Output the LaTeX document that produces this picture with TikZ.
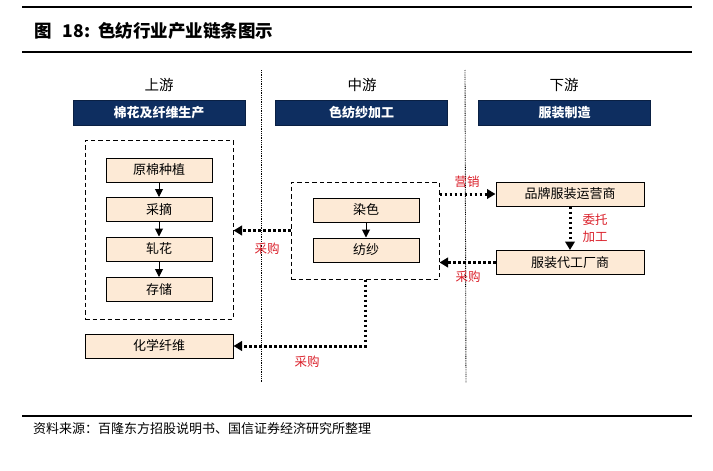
\documentclass[tikz,border=0pt]{standalone}
\usepackage{fontspec}
\setmainfont{Noto Sans CJK SC}
\usetikzlibrary{arrows.meta}
\definecolor{navy}{RGB}{14,46,96}
\definecolor{peach}{RGB}{253,234,214}
\definecolor{lblred}{RGB}{218,32,42}
\tikzset{
  rulebar/.style={line width=2pt},
  sepline/.style={line width=0.9pt, dash pattern=on 0.9pt off 0.9pt},
  heading/.style={font=\fontsize{14.5}{16}\selectfont},
  navybar/.style={fill=navy, draw=navy!70!black, minimum width=172pt, minimum height=25pt, inner sep=0pt, text=white, font=\fontsize{13}{15}\selectfont\bfseries},
  stagebox/.style={draw=black, line width=1pt, fill=peach, minimum height=24pt, inner sep=0pt, font=\fontsize{13}{15}\selectfont},
  groupbox/.style={draw=black, line width=1pt, dash pattern=on 4.5pt off 3pt, inner sep=0pt},
  solidarrow/.style={line width=1pt, -{Triangle[length=8pt,width=8pt]}},
  dotarrow/.style={line width=3pt, dash pattern=on 2.8pt off 2.2pt, -{Triangle[length=8.5pt,width=9.5pt]}},
  lbl/.style={text=lblred, font=\fontsize{12.5}{14}\selectfont, inner sep=0pt},
}
\begin{document}
\begin{tikzpicture}[x=1pt,y=-1pt]
\useasboundingbox (0,0) rectangle (713,471);
% header and footer rules
\coordinate (r1a) at (22,7);   \coordinate (r1b) at (692,7);
\coordinate (r2a) at (22,52);  \coordinate (r2b) at (692,52);
\coordinate (r3a) at (22,416); \coordinate (r3b) at (692,416);
\draw[rulebar] (r1a) -- (r1b);
\draw[rulebar] (r2a) -- (r2b);
\draw[rulebar] (r3a) -- (r3b);
\node[anchor=west, inner sep=0pt, font=\fontsize{17.5}{19}\selectfont\bfseries] (title) at (34,31) {图\hspace{11pt}18:\hspace{8pt}色纺行业产业链条图示};
\node[anchor=west, inner sep=0pt, font=\fontsize{13}{15}\selectfont] (source) at (33,429) {资料来源：百隆东方招股说明书、国信证券经济研究所整理};
% column separators
\coordinate (s1a) at (261,70); \coordinate (s1b) at (261,383);
\coordinate (s2a) at (465,70); \coordinate (s2b) at (466,383);
\draw[sepline] (s1a) -- (s1b);
\draw[sepline] (s2a) -- (s2b);
% headings
\node[heading] (hup) at (159,85) {上游};
\node[heading] (hmid) at (362,85) {中游};
\node[heading] (hdown) at (564,85) {下游};
\node[navybar] (bup) at (159,112.5) {棉花及纤维生产};
\node[navybar] (bmid) at (361.5,112.5) {色纺纱加工};
\node[navybar] (bdown) at (564.5,112.5) {服装制造};
% upstream
\node[groupbox, minimum width=148pt, minimum height=179pt] (upg) at (159,229.5) {};
\node[stagebox, minimum width=106pt] (u1) at (159,170) {原棉种植};
\node[stagebox, minimum width=106pt] (u2) at (159,209.5) {采摘};
\node[stagebox, minimum width=106pt] (u3) at (159,249) {轧花};
\node[stagebox, minimum width=106pt] (u4) at (159,289.5) {存储};
\draw[solidarrow] (u1) -- (u2);
\draw[solidarrow] (u2) -- (u3);
\draw[solidarrow] (u3) -- (u4);
\node[stagebox, minimum width=148pt] (chem) at (159,346) {化学纤维};
% midstream
\node[groupbox, minimum width=148pt, minimum height=97pt] (midg) at (365,230.5) {};
\node[stagebox, minimum width=106pt] (m1) at (366,210) {染色};
\node[stagebox, minimum width=106pt] (m2) at (366,250) {纺纱};
\draw[solidarrow] (m1) -- (m2);
% downstream
\node[stagebox, minimum width=148pt] (brand) at (570,194) {品牌服装运营商};
\node[stagebox, minimum width=148pt] (oem) at (570,262.5) {服装代工厂商};
% connectors
\draw[dotarrow] (midg.west) -- (midg.west -| upg.east);
\draw[dotarrow] (midg.south) |- (chem.east);
\draw[dotarrow] (midg.east |- brand.west) -- (brand.west);
\draw[dotarrow] (oem.west) -- (oem.west -| midg.east);
\draw[dotarrow] (brand.south) -- (oem.north);
% labels
\node[lbl] (l1) at (267,249) {采购};
\node[lbl] (l2) at (307,362) {采购};
\node[lbl] (l3) at (467,182) {营销};
\node[lbl] (l4) at (468,277) {采购};
\node[lbl, align=center, font=\fontsize{12.5}{17}\selectfont] (l5) at (595,228.5) {委托\\加工};
\end{tikzpicture}
\end{document}
